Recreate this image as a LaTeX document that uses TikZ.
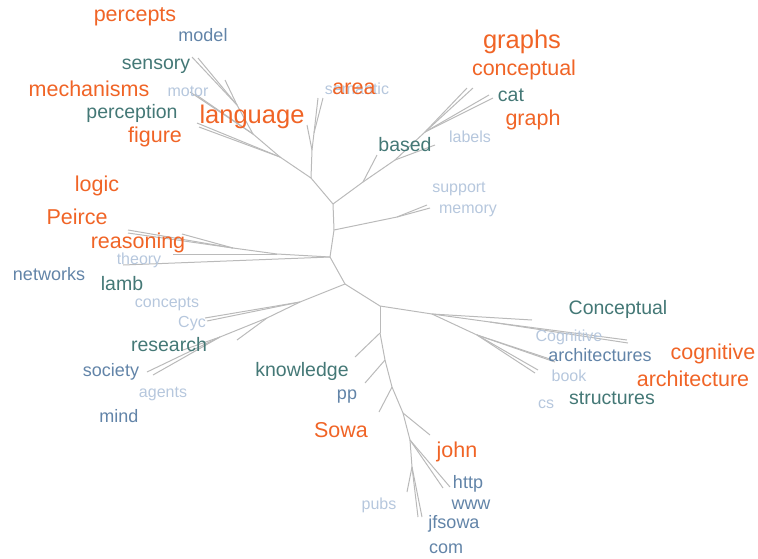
\documentclass[tikz,border=0pt]{standalone}
\usepackage{fontspec}
\setmainfont{Liberation Sans}
\definecolor{hotorange}{RGB}{240,100,38}
\definecolor{darkteal}{RGB}{68,120,118}
\definecolor{slateblue}{RGB}{98,132,168}
\definecolor{paleblue}{RGB}{182,199,221}
\definecolor{branchgray}{RGB}{186,186,186}

\begin{document}
\begin{tikzpicture}[x=1pt, y=-1pt,
						word/.style={inner sep=0pt, yshift=-2pt},
						hot/.style={word, text=hotorange, font=\fontsize{21.5}{22}\selectfont},
						hotter/.style={word, text=hotorange, font=\fontsize{25.5}{26}\selectfont},
						teal/.style={word, text=darkteal, font=\fontsize{19.5}{20}\selectfont},
						slate/.style={word, text=slateblue, font=\fontsize{18}{18}\selectfont},
						pale/.style={word, text=paleblue, font=\fontsize{16}{16}\selectfont},
						every edge/.append style={draw=branchgray, line width=1pt},]
		\useasboundingbox (0,0) rectangle (758,558);

		% trunk and junctions
		\coordinate (r1) at (333,204);
		\coordinate (r2) at (334,230);
		\coordinate (r3) at (330,257);
		\coordinate (r4) at (345,284);
		\coordinate (j_lang) at (311,178);
		\coordinate (j_sem) at (312,150);
		\coordinate (j_sem2) at (314,133);
		\coordinate (j_fig) at (280,157);
		\coordinate (j_motor) at (253,134);
		\coordinate (j_sens) at (237,105);
		\coordinate (j_based) at (363,182);
		\coordinate (j_labels) at (395,160);
		\coordinate (j_graph) at (425,132);
		\coordinate (j_mem) at (397,217);
		\coordinate (j_left) at (277,254);
		\coordinate (j_logic) at (233,248);
		\coordinate (j_cyc) at (300,302);
		\coordinate (j_res) at (267,318);
		\coordinate (j_soc) at (220,337);
		\coordinate (j_bot) at (380,306);
		\coordinate (j_cog) at (432,314);
		\coordinate (j_cog2) at (490,322);
		\coordinate (j_arch) at (477,335);
		\coordinate (t1) at (380,333);
		\coordinate (t2) at (385,360);
		\coordinate (t3) at (392,387);
		\coordinate (t4) at (403,413);
		\coordinate (t5) at (410,440);
		\coordinate (t6) at (412,467);

		% leaves
		\coordinate (l_sem) at (307,125);
		\coordinate (l_area1) at (318,98);
		\coordinate (l_area2) at (323,98);
		\coordinate (l_fig1) at (197,123);
		\coordinate (l_fig2) at (199,127);
		\coordinate (l_motor1) at (190,92);
		\coordinate (l_motor2) at (195,94);
		\coordinate (l_model) at (225,80);
		\coordinate (l_sens1) at (192,57);
		\coordinate (l_sens2) at (198,58);
		\coordinate (l_based) at (377,155);
		\coordinate (l_labels) at (435,145);
		\coordinate (l_conc1) at (467,88);
		\coordinate (l_conc2) at (473,88);
		\coordinate (l_cat1) at (489,95);
		\coordinate (l_cat2) at (493,98);
		\coordinate (l_mem1) at (427,205);
		\coordinate (l_mem2) at (430,208);
		\coordinate (l_reas1) at (128,230);
		\coordinate (l_reas2) at (128,233);
		\coordinate (l_reas3) at (182,234);
		\coordinate (l_theory) at (173,254);
		\coordinate (l_net) at (123,265);
		\coordinate (l_cyc1) at (205,318);
		\coordinate (l_cyc2) at (207,321);
		\coordinate (l_res) at (237,340);
		\coordinate (l_soc1) at (147,372);
		\coordinate (l_soc2) at (153,375);
		\coordinate (l_soc3) at (183,350);
		\coordinate (l_concept) at (532,320);
		\coordinate (l_cog1) at (627,340);
		\coordinate (l_cog2) at (628,343);
		\coordinate (l_arch1) at (553,360);
		\coordinate (l_arch2) at (555,362);
		\coordinate (l_book1) at (538,370);
		\coordinate (l_book2) at (535,373);
		\coordinate (l_know) at (355,357);
		\coordinate (l_pp) at (365,383);
		\coordinate (l_sowa) at (379,412);
		\coordinate (l_john) at (430,435);
		\coordinate (l_http) at (450,487);
		\coordinate (l_www) at (443,488);
		\coordinate (l_pubs) at (407,492);
		\coordinate (l_jf1) at (418,517);
		\coordinate (l_jf2) at (422,517);

		\path 	(r1) edge (r2)
				(r2) edge (r3)
				(r3) edge (r4)
				(r1) edge (j_lang)
				(j_lang) edge (j_sem)
				(j_sem) edge (l_sem)
				(j_sem) edge (j_sem2)
				(j_sem2) edge (l_area1)
				(j_sem2) edge (l_area2)
				(j_lang) edge (j_fig)
				(j_fig) edge (l_fig1)
				(j_fig) edge (l_fig2)
				(j_fig) edge (j_motor)
				(j_motor) edge (l_motor1)
				(j_motor) edge (l_motor2)
				(j_motor) edge (j_sens)
				(j_sens) edge (l_model)
				(j_sens) edge (l_sens1)
				(j_sens) edge (l_sens2)
				(r1) edge (j_based)
				(j_based) edge (l_based)
				(j_based) edge (j_labels)
				(j_labels) edge (l_labels)
				(j_labels) edge (j_graph)
				(j_graph) edge (l_conc1)
				(j_graph) edge (l_conc2)
				(j_graph) edge (l_cat1)
				(j_graph) edge (l_cat2)
				(r2) edge (j_mem)
				(j_mem) edge (l_mem1)
				(j_mem) edge (l_mem2)
				(r3) edge (j_left)
				(r3) edge (l_net)
				(j_left) edge (l_theory)
				(j_left) edge (j_logic)
				(j_logic) edge (l_reas1)
				(j_logic) edge (l_reas2)
				(j_logic) edge (l_reas3)
				(r4) edge (j_cyc)
				(j_cyc) edge (l_cyc1)
				(j_cyc) edge (l_cyc2)
				(j_cyc) edge (j_res)
				(j_res) edge (l_res)
				(j_res) edge (j_soc)
				(j_soc) edge (l_soc1)
				(j_soc) edge (l_soc2)
				(j_soc) edge (l_soc3)
				(r4) edge (j_bot)
				(j_bot) edge (j_cog)
				(j_cog) edge (l_concept)
				(j_cog) edge (j_cog2)
				(j_cog2) edge (l_cog1)
				(j_cog2) edge (l_cog2)
				(j_cog) edge (j_arch)
				(j_arch) edge (l_arch1)
				(j_arch) edge (l_arch2)
				(j_arch) edge (l_book1)
				(j_arch) edge (l_book2)
				(j_bot) edge (t1)
				(t1) edge (l_know)
				(t1) edge (t2)
				(t2) edge (l_pp)
				(t2) edge (t3)
				(t3) edge (l_sowa)
				(t3) edge (t4)
				(t4) edge (l_john)
				(t4) edge (t5)
				(t5) edge (l_http)
				(t5) edge (l_www)
				(t5) edge (t6)
				(t6) edge (l_pubs)
				(t6) edge (l_jf1)
				(t6) edge (l_jf2);

		% words
		\node (percepts) [hot] at (135,15) {percepts};
		\node (model) [slate] at (203,33) {model};
		\node (sensory) [teal] at (156,64) {sensory};
		\node (mechanisms) [hot] at (89,87) {mechanisms};
		\node (motor) [pale] at (188,89) {motor};
		\node (perception) [teal] at (132,111) {perception};
		\node (figure) [hot] at (155,135) {figure};
		\node (language) [hotter] at (252,115) {language};
		\node (semantic) [pale] at (357,87) {semantic};
		\node (area) [hot] at (354,87) {area};
		\node (graphs) [hotter] at (522,40) {graphs};
		\node (conceptual) [hot] at (524,68) {conceptual};
		\node (cat) [teal] at (511,93) {cat};
		\node (graph) [hot] at (533,118) {graph};
		\node (labels) [pale] at (470,135) {labels};
		\node (based) [teal] at (405,143) {based};
		\node (support) [pale] at (459,187) {support};
		\node (memory) [pale] at (468,209) {memory};
		\node (logic) [hot] at (97,184) {logic};
		\node (Peirce) [hot] at (77,215) {Peirce};
		\node (reasoning) [hot] at (138,241) {reasoning};
		\node (theory) [pale] at (139,258) {theory};
		\node (networks) [slate] at (49,272) {networks};
		\node (lamb) [teal] at (122,282) {lamb};
		\node (concepts) [pale] at (167,302) {concepts};
		\node (Cyc) [pale] at (192,322) {Cyc};
		\node (research) [teal] at (169,343) {research};
		\node (society) [slate] at (111,370) {society};
		\node (agents) [pale] at (163,392) {agents};
		\node (mind) [slate] at (119,414) {mind};
		\node (knowledge) [teal] at (302,369) {knowledge};
		\node (pp) [slate] at (347,395) {pp};
		\node (Sowa) [hot] at (341,428) {Sowa};
		\node (pubs) [pale] at (379,503) {pubs};
		\node (Conceptual) [teal] at (618,307) {Conceptual};
		\node (Cognitive) [pale] at (569,335) {Cognitive};
		\node (architectures) [slate] at (600,353) {architectures};
		\node (cognitive) [hot] at (713,352) {cognitive};
		\node (book) [pale] at (569,374) {book};
		\node (architecture) [hot] at (693,377) {architecture};
		\node (cs) [pale] at (546,402) {cs};
		\node (structures) [teal] at (612,396) {structures};
		\node (john) [hot] at (457,450) {john};
		\node (http) [slate] at (468,482) {http};
		\node (www) [slate] at (471,503) {www};
		\node (jfsowa) [slate] at (454,522) {jfsowa};
		\node (com) [slate] at (446,547) {com};
	\end{tikzpicture}
\end{document}
